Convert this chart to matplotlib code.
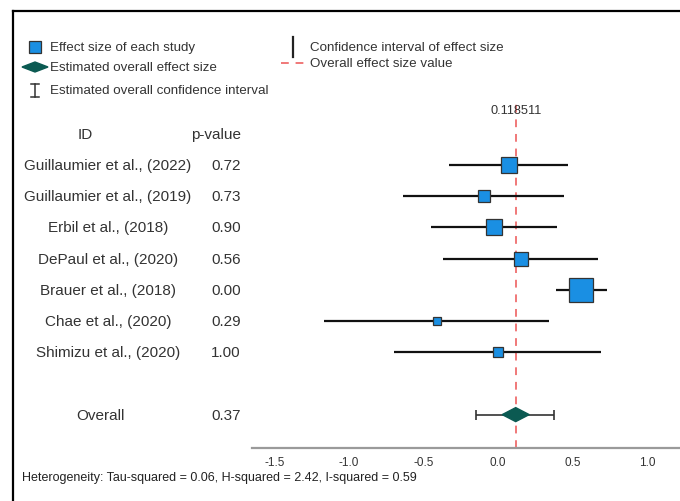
import matplotlib
matplotlib.use("Agg")
import matplotlib.pyplot as plt
import numpy as np
from matplotlib.transforms import blended_transform_factory
from matplotlib.lines import Line2D
from matplotlib.patches import Polygon, Rectangle

# ---------------- data ----------------
studies = ["Guillaumier et al., (2022)", "Guillaumier et al., (2019)",
           "Erbil et al., (2018)", "DePaul et al., (2020)",
           "Brauer et al., (2018)", "Chae et al., (2020)",
           "Shimizu et al., (2020)"]
p_values = ["0.72", "0.73", "0.90", "0.56", "0.00", "0.29", "1.00"]
effect = [0.072, -0.096, -0.029, 0.152, 0.557, -0.411, -0.002]
ci_low = [-0.329, -0.640, -0.450, -0.367, 0.387, -1.168, -0.696]
ci_high = [0.472, 0.445, 0.394, 0.673, 0.732, 0.344, 0.691]
weights = [17.1, 9.6, 15.7, 10.7, 36.8, 4.4, 5.8]
overall_effect = 0.118511
overall_low = -0.145
overall_high = 0.378
overall_p = "0.37"
heterogeneity = "Heterogeneity: Tau-squared = 0.06, H-squared = 2.42, I-squared = 0.59"
xticks = [-1.5, -1.0, -0.5, 0.0, 0.5, 1.0]

# ---------------- figure ----------------
W, H = 680, 502
fig = plt.figure(figsize=(W / 100, H / 100), dpi=100)
plt.rcParams['font.family'] = ['Liberation Sans', 'DejaVu Sans']

def fx(x):
    return x / W

def fy(y):
    return 1 - y / H

ax_left, ax_right, ax_top, ax_bot = 252, 680, 100, 449
ax = fig.add_axes([fx(ax_left), fy(ax_bot), (ax_right - ax_left) / W, (ax_bot - ax_top) / H])
ax.set_xlim(-1.651, 1.221)
ax.set_ylim(9.07, -2.115)
ax.patch.set_alpha(0)
for s in ["top", "right", "left"]:
    ax.spines[s].set_visible(False)
ax.spines["bottom"].set_color("#9a9a9a")
ax.spines["bottom"].set_linewidth(1.6)
ax.set_yticks([])
ax.set_xticks(xticks)
ax.set_xticklabels([f"{t:.1f}" for t in xticks])
ax.tick_params(axis="x", length=0, labelsize=8.5, labelcolor="#333333", pad=6)

ypos = np.arange(len(studies))
y_overall = len(studies) + 1

# reference line
ax.axvline(overall_effect, ymin=0, ymax=1, color="#f07878", lw=1.4,
           dashes=(4, 3.5), zorder=1)
ax.text(overall_effect, -1.77, f"{overall_effect:.6f}", ha="center", va="center",
        fontsize=9.2, color="#333333", zorder=5)

# CI lines and squares
for i in range(len(studies)):
    ax.plot([ci_low[i], ci_high[i]], [ypos[i], ypos[i]], color="#111111",
            lw=1.6, solid_capstyle="butt", zorder=2)
    ax.plot(effect[i], ypos[i], marker="s", markersize=2.91 * np.sqrt(weights[i]),
            markerfacecolor="#1a8fe3", markeredgecolor="#333333",
            markeredgewidth=0.9, zorder=3)

# overall
ax.errorbar(overall_effect, y_overall, xerr=[[overall_effect - overall_low],
                                             [overall_high - overall_effect]],
            fmt="none", ecolor="#333333", elinewidth=1.2, capsize=3.5,
            capthick=1.2, zorder=2)
hw = 13.5 / 149
hh = 7.0 / 31.2
ax.add_patch(Polygon([[overall_effect - hw, y_overall], [overall_effect, y_overall - hh],
                      [overall_effect + hw, y_overall], [overall_effect, y_overall + hh]],
                     closed=True, facecolor="#0b5a52", edgecolor="#0b5a52", zorder=3))

# left text columns
trans = blended_transform_factory(fig.transFigure, ax.transData)
name_fs = 11
ax.text(fx(85), -1, "ID", transform=trans, ha="center", va="center",
        fontsize=name_fs, color="#333333")
ax.text(fx(241), -1, "p-value", transform=trans, ha="right", va="center",
        fontsize=name_fs, color="#333333")
for i in range(len(studies)):
    ax.text(fx(108), ypos[i], studies[i], transform=trans, ha="center",
            va="center", fontsize=name_fs, color="#333333")
    ax.text(fx(241), ypos[i], p_values[i], transform=trans, ha="right",
            va="center", fontsize=name_fs, color="#333333")
ax.text(fx(100), y_overall, "Overall", transform=trans, ha="center", va="center",
        fontsize=name_fs, color="#333333")
ax.text(fx(241), y_overall, overall_p, transform=trans, ha="right", va="center",
        fontsize=name_fs, color="#333333")

# heterogeneity
fig.text(fx(22), fy(478), heterogeneity, ha="left", va="center", fontsize=9.0,
         color="#222222")

# legend (manual)
leg_fs = 9.6
tf = fig.transFigure
sq = 12.5
fig.patches.append(Rectangle((fx(35 - sq / 2), fy(48 + sq / 2)), sq / W, sq / H,
                             transform=tf, facecolor="#1a8fe3", edgecolor="#333333",
                             lw=0.9, figure=fig))
fig.text(fx(50), fy(48), "Effect size of each study", ha="left", va="center",
         fontsize=leg_fs, color="#333333")
fig.patches.append(Polygon([[fx(22), fy(68)], [fx(35), fy(63)], [fx(48), fy(68)],
                            [fx(35), fy(73)]], closed=True, transform=tf,
                           facecolor="#0b5a52", edgecolor="#0b5a52", figure=fig))
fig.text(fx(50), fy(68), "Estimated overall effect size", ha="left", va="center",
         fontsize=leg_fs, color="#333333")
for seg in ([(35, 85), (35, 98)], [(31, 85), (39, 85)], [(31, 98), (39, 98)]):
    fig.lines.append(Line2D([fx(seg[0][0]), fx(seg[1][0])], [fy(seg[0][1]), fy(seg[1][1])],
                            transform=tf, color="#333333", lw=1.1, figure=fig))
fig.text(fx(50), fy(91), "Estimated overall confidence interval", ha="left",
         va="center", fontsize=leg_fs, color="#333333")
fig.lines.append(Line2D([fx(293), fx(293)], [fy(38), fy(58)], transform=tf,
                        color="#222222", lw=1.6, figure=fig))
fig.text(fx(310), fy(48), "Confidence interval of effect size", ha="left",
         va="center", fontsize=leg_fs, color="#333333")
fig.lines.append(Line2D([fx(281), fx(306)], [fy(64), fy(64)], transform=tf,
                        color="#f07878", lw=1.4, dashes=(4, 3.5), figure=fig))
fig.text(fx(310), fy(64), "Overall effect size value", ha="left", va="center",
         fontsize=leg_fs, color="#333333")

# outer frame
fig.lines.append(Line2D([fx(12.5), fx(12.5)], [fy(12), 0], transform=tf,
                        color="black", lw=1.6, figure=fig))
fig.lines.append(Line2D([fx(12.5), 1], [fy(12), fy(12)], transform=tf,
                        color="black", lw=1.6, figure=fig))

fig.savefig("out.png", dpi=100)
